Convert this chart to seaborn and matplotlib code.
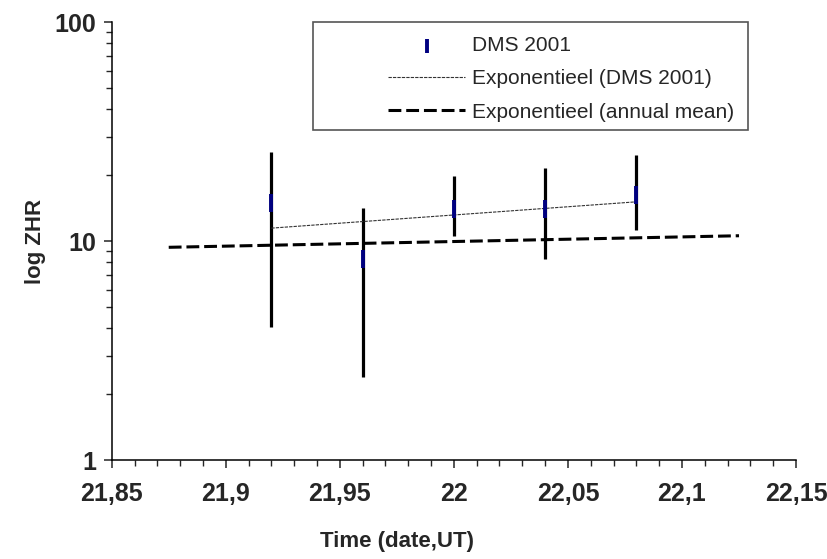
import numpy as np
import pandas as pd
import matplotlib
matplotlib.use("Agg")
import matplotlib.pyplot as plt
import seaborn as sns
from matplotlib.patches import Rectangle
from matplotlib.ticker import FixedLocator, MultipleLocator, LogLocator, NullFormatter

# DMS 2001 observations (date in UT days, ZHR with error range)
dates = [21.92, 21.96, 22.00, 22.04, 22.08]
zhr = [14.9, 8.3, 14.0, 14.0, 16.3]
zhr_low = [4.05, 2.4, 10.5, 8.25, 11.2]
zhr_high = [25.5, 14.2, 19.8, 21.5, 24.7]

# exponential trend lines (straight in log scale), end points
trend_dates = [21.92, 22.08]
trend_dms = [11.45, 15.1]
mean_dates = [21.875, 22.125]
mean_zhr = [9.36, 10.57]

x_ticks = [21.85, 21.90, 21.95, 22.00, 22.05, 22.10, 22.15]
x_labels = ["21,85", "21,9", "21,95", "22", "22,05", "22,1", "22,15"]
y_ticks = [1, 10, 100]
y_labels = ["1", "10", "100"]

sns.set_style("ticks")
plt.rcParams['font.family'] = ['Liberation Sans', 'DejaVu Sans']

df = pd.DataFrame({"date": dates, "zhr": zhr})
df_trend = pd.DataFrame({"date": trend_dates, "zhr": trend_dms})
df_mean = pd.DataFrame({"date": mean_dates, "zhr": mean_zhr})

fig = plt.figure(figsize=(8.28, 5.59), dpi=100)
ax = fig.add_axes([0.1349, 0.1771, 0.8265, 0.7835])

# error bars first, markers on top
yerr = [np.array(zhr) - np.array(zhr_low), np.array(zhr_high) - np.array(zhr)]
ax.errorbar(dates, zhr, yerr=yerr, fmt='none', ecolor='black', elinewidth=2.3, capsize=0, zorder=2)

sns.lineplot(data=df_mean, x="date", y="zhr", ax=ax, color='black', linewidth=2.2,
             linestyle=(0, (4.2, 1.6)), label="Exponentieel (annual mean)", zorder=2)
sns.lineplot(data=df_trend, x="date", y="zhr", ax=ax, color='#333333', linewidth=0.8,
             linestyle=(0, (3, 1)), label="Exponentieel (DMS 2001)", zorder=2.5)
sns.scatterplot(data=df, x="date", y="zhr", ax=ax, marker='|', color='#000080', s=180,
                linewidth=2.8, label="DMS 2001", zorder=3)

ax.set_yscale('log')
ax.set_ylim(1, 100)
ax.set_xlim(21.85, 22.15)

ax.xaxis.set_major_locator(FixedLocator(x_ticks))
ax.set_xticklabels(x_labels)
ax.xaxis.set_minor_locator(MultipleLocator(0.01))
ax.yaxis.set_major_locator(FixedLocator(y_ticks))
ax.set_yticklabels(y_labels)
ax.yaxis.set_minor_locator(LogLocator(base=10, subs=np.arange(2, 10)))
ax.yaxis.set_minor_formatter(NullFormatter())

for lab in ax.get_xticklabels() + ax.get_yticklabels():
    lab.set_fontweight('bold')
    lab.set_fontsize(18)

ax.tick_params(axis='x', which='major', direction='out', length=6, width=1.1, pad=10)
ax.tick_params(axis='x', which='minor', direction='out', length=4, width=1.0)
ax.tick_params(axis='y', which='major', direction='out', length=6, width=1.1, pad=5)
ax.tick_params(axis='y', which='minor', direction='out', length=4, width=1.0)

sns.despine(ax=ax)
for sp in ['left', 'bottom']:
    ax.spines[sp].set_linewidth(1.1)
    ax.spines[sp].set_color('black')

ax.set_xlabel("Time (date,UT)", fontsize=16, fontweight='bold')
ax.set_ylabel("log ZHR", fontsize=16, fontweight='bold')
ax.xaxis.set_label_coords(0.417, -0.163)
ax.yaxis.set_label_coords(-0.096, 0.5)

# legend box like Excel: fixed frame, entries placed inside
ax.add_patch(Rectangle((0.294, 0.753), 0.636, 0.247, transform=ax.transAxes,
                       facecolor='white', edgecolor='#555555', linewidth=1.2,
                       clip_on=False, zorder=4))
handles, labels = ax.get_legend_handles_labels()
order = [labels.index("DMS 2001"), labels.index("Exponentieel (DMS 2001)"),
         labels.index("Exponentieel (annual mean)")]
leg = ax.legend([handles[i] for i in order], [labels[i] for i in order],
                loc='upper left', bbox_to_anchor=(0.404, 0.968), frameon=False,
                fontsize=15, borderpad=0, borderaxespad=0, handlelength=3.7,
                handletextpad=0.32, labelspacing=0.69, markerscale=0.8)
leg.set_zorder(5)

plt.savefig('out.png', dpi=100)
